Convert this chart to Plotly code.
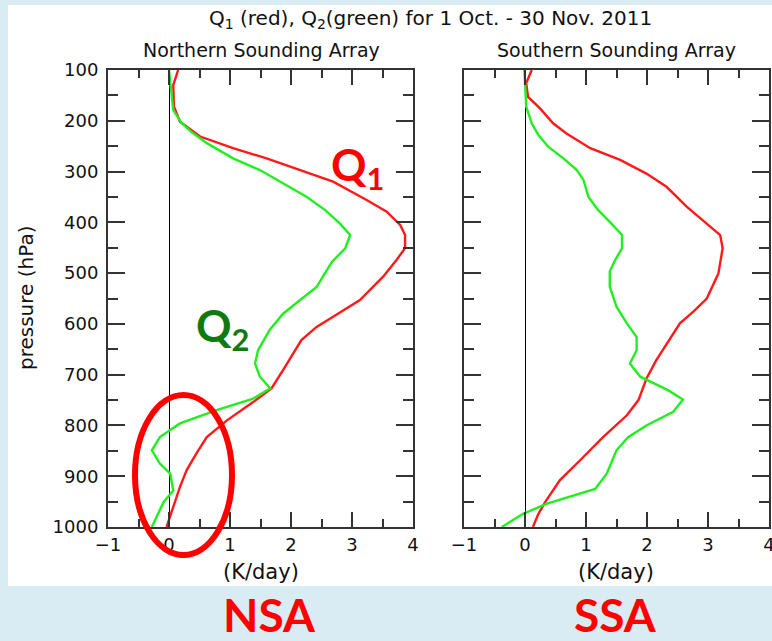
import plotly.graph_objects as go

# ---- Data: heating / moistening profiles, 1 Oct - 30 Nov 2011 ----
# Northern Sounding Array
nsa_q1_p = [100, 130, 172, 202, 231, 254, 274, 297, 320, 356, 379, 405, 425, 451, 474, 507,
            553, 586, 606, 632, 658, 691, 727, 754, 790, 823, 855, 888, 921, 961, 1000]
nsa_q1 = [0.15, 0.07, 0.08, 0.18, 0.51, 1.05, 1.60, 2.15, 2.69, 3.24, 3.57, 3.79, 3.87, 3.87, 3.73, 3.51,
          3.13, 2.69, 2.42, 2.17, 2.04, 1.87, 1.68, 1.38, 0.95, 0.62, 0.45, 0.29, 0.18, 0.07, -0.04]

nsa_q2_p = [100, 146, 179, 205, 222, 244, 274, 297, 323, 350, 376, 402, 425, 451, 478, 527, 553,
            580, 612, 652, 678, 704, 727, 747, 770, 796, 809, 823, 849, 875, 895, 928, 951, 1000]
nsa_q2 = [0.00, 0.04, 0.07, 0.21, 0.37, 0.62, 1.05, 1.49, 1.87, 2.26, 2.56, 2.80, 2.97, 2.89, 2.67, 2.42, 2.15,
          1.87, 1.65, 1.46, 1.41, 1.49, 1.66, 1.38, 0.78, 0.18, 0.02, -0.15, -0.28, -0.15, 0.02, 0.07, -0.09, -0.28]

# Southern Sounding Array
ssa_q1_p = [100, 126, 153, 176, 205, 225, 254, 277, 304, 330, 369, 402, 425, 451, 501, 550, 576,
            599, 639, 672, 708, 750, 780, 823, 869, 908, 951, 974, 1000]
ssa_q1 = [0.11, 0.02, 0.05, 0.25, 0.46, 0.68, 1.07, 1.56, 1.99, 2.32, 2.65, 2.98, 3.20, 3.24, 3.17, 2.98, 2.76,
          2.54, 2.32, 2.15, 1.99, 1.86, 1.67, 1.28, 0.90, 0.57, 0.33, 0.22, 0.13]

ssa_q2_p = [100, 130, 172, 205, 228, 251, 274, 297, 317, 350, 376, 399, 425, 451, 474, 497, 527, 566,
            599, 626, 652, 678, 704, 731, 749, 773, 800, 823, 849, 895, 925, 954, 974, 1000]
ssa_q2 = [-0.01, 0.00, 0.02, 0.11, 0.22, 0.38, 0.63, 0.85, 0.96, 1.04, 1.20, 1.39, 1.59, 1.59, 1.48, 1.39, 1.39, 1.50,
          1.67, 1.83, 1.83, 1.72, 1.89, 2.35, 2.59, 2.43, 1.99, 1.69, 1.50, 1.34, 1.15, 0.36, -0.03, -0.38]

x_ticks = [-1, 0, 1, 2, 3, 4]
p_ticks = [100, 200, 300, 400, 500, 600, 700, 800, 900, 1000]

W, H = 772, 641
BG = "#DAECF3"
AX = "#333333"
RED = "#FF1A1A"
GREEN = "#22EE22"
TXT_FONT = "DejaVu Sans, Verdana, sans-serif"
BIG_FONT = "Lato, sans-serif"


def fx(px):
    return px / W


def fy(py):
    return 1 - py / H


fig = go.Figure()

fig.add_trace(go.Scatter(x=nsa_q1, y=nsa_q1_p, mode="lines", line=dict(color=RED, width=2.4),
                         xaxis="x", yaxis="y", showlegend=False))
fig.add_trace(go.Scatter(x=nsa_q2, y=nsa_q2_p, mode="lines", line=dict(color=GREEN, width=2.4),
                         xaxis="x", yaxis="y", showlegend=False))
fig.add_trace(go.Scatter(x=ssa_q1, y=ssa_q1_p, mode="lines", line=dict(color=RED, width=2.4),
                         xaxis="x2", yaxis="y2", showlegend=False))
fig.add_trace(go.Scatter(x=ssa_q2, y=ssa_q2_p, mode="lines", line=dict(color=GREEN, width=2.4),
                         xaxis="x2", yaxis="y2", showlegend=False))

ydom = [fy(527), fy(70)]

xax_common = dict(
    range=[-1, 4], tickvals=x_ticks, ticks="inside", ticklen=15, tickwidth=2, tickcolor=AX,
    showline=True, linecolor=AX, linewidth=2, mirror="ticks", showgrid=False, automargin=False,
    zeroline=True, zerolinecolor="black", zerolinewidth=1.3, ticklabeloverflow="allow",
    minor=dict(dtick=0.5, ticks="inside", ticklen=8, tickwidth=2, tickcolor=AX, showgrid=False),
    tickfont=dict(family=TXT_FONT, size=18, color="#111111"),
)
yax_common = dict(
    range=[1000, 100], tickvals=p_ticks, ticks="inside", ticklen=17, tickwidth=2, tickcolor=AX,
    showline=True, linecolor=AX, linewidth=2, mirror="ticks", showgrid=False, zeroline=False,
    automargin=False,
    minor=dict(dtick=50, ticks="inside", ticklen=10, tickwidth=2, tickcolor=AX, showgrid=False),
    tickfont=dict(family=TXT_FONT, size=18, color="#111111"),
)

fig.update_layout(
    width=W, height=H,
    margin=dict(l=0, r=0, t=0, b=0, autoexpand=False),
    paper_bgcolor=BG, plot_bgcolor="white",
    font=dict(family=TXT_FONT),
    xaxis=dict(domain=[fx(108), fx(413)], anchor="y", **xax_common),
    yaxis=dict(domain=ydom, anchor="x", ticklabelstandoff=4, **yax_common),
    xaxis2=dict(domain=[fx(464), fx(769)], anchor="y2", **xax_common),
    yaxis2=dict(domain=ydom, anchor="x2", showticklabels=False, **yax_common),
)

# White page behind both panels
fig.add_shape(type="rect", xref="paper", yref="paper", x0=fx(8), x1=fx(772), y0=fy(586), y1=fy(5),
              fillcolor="white", line=dict(width=0), layer="below")

# Red ellipse marking the low-level region of the northern array
fig.add_shape(type="circle", xref="paper", yref="paper", x0=fx(135), x1=fx(232), y0=fy(555), y1=fy(395),
              line=dict(color="#FF0000", width=6))

annots = [
    dict(text="Q<sub>1</sub> (red), Q<sub>2</sub>(green) for 1 Oct. - 30 Nov. 2011",
         x=fx(430), y=fy(19), size=20, font=TXT_FONT, color="#111111"),
    dict(text="Northern Sounding Array", x=fx(261), y=fy(50), size=19, font=TXT_FONT, color="#111111"),
    dict(text="Southern Sounding Array", x=fx(616), y=fy(50), size=19, font=TXT_FONT, color="#111111"),
    dict(text="(K/day)", x=fx(261), y=fy(572), size=21, font=TXT_FONT, color="#111111"),
    dict(text="(K/day)", x=fx(616), y=fy(572), size=21, font=TXT_FONT, color="#111111"),
    dict(text="<b>Q<sub>1</sub></b>", x=fx(357), y=fy(168), size=44, font=BIG_FONT, color="#FF0000"),
    dict(text="<b>Q<sub>2</sub></b>", x=fx(222), y=fy(328), size=44, font=BIG_FONT, color="#0F7A0F"),
    dict(text="<b>NSA</b>", x=fx(269), y=fy(614), size=46, font=BIG_FONT, color="#FF0000"),
    dict(text="<b>SSA</b>", x=fx(615), y=fy(614), size=46, font=BIG_FONT, color="#FF0000"),
]
for a in annots:
    fig.add_annotation(text=a["text"], x=a["x"], y=a["y"], xref="paper", yref="paper",
                       xanchor="center", yanchor="middle", showarrow=False,
                       font=dict(family=a["font"], size=a["size"], color=a["color"]))

fig.add_annotation(text="pressure (hPa)", x=fx(26), y=fy(298), xref="paper", yref="paper",
                   xanchor="center", yanchor="middle", showarrow=False, textangle=-90,
                   font=dict(family=TXT_FONT, size=20, color="#111111"))

fig.write_html("out.html")
